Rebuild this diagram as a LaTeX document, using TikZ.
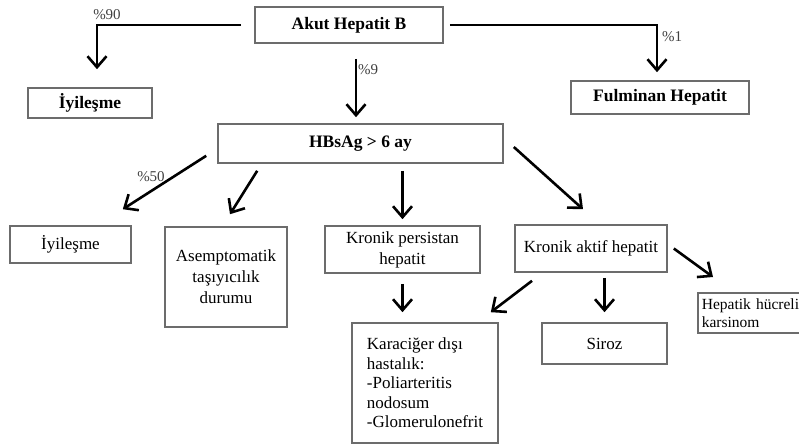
\documentclass[tikz,border=0pt]{standalone}
\usepackage{fontspec}
\setmainfont{Liberation Serif}
\usetikzlibrary{arrows.meta}

\begin{document}
\begin{tikzpicture}[x=1pt,y=-1pt,
        box/.style={draw=gray!85!black, line width=1.6pt, inner sep=0pt, font=\fontsize{17}{20}\selectfont},
        boldbox/.style={box, font=\fontsize{17.5}{20}\selectfont\bfseries},
        arr/.style={-{Straight Barb[length=11pt,width=19pt]}, line width=2.6pt},
        pct/.style={font=\fontsize{15}{17}\selectfont, text=black!75}]
        \clip (0,0) rectangle (799,445);

        % top level
        \node[boldbox, minimum width=188pt, minimum height=36pt] (akut) at (349,25) {Akut Hepatit B};
        \node[boldbox, minimum width=124pt, minimum height=30pt] (iyi1) at (90,103) {İyileşme};
        \node[boldbox, minimum width=178pt, minimum height=33pt] (fulminan) at (660,97.5) {Fulminan Hepatit};
        \node[boldbox, minimum width=285pt, minimum height=39pt] (hbsag) at (360.5,143.5) {HBsAg > 6 ay};

        % second level
        \node[box, minimum width=121pt, minimum height=37pt] (iyi2) at (70.5,244.5) {İyileşme};
        \node[box, minimum width=122pt, minimum height=100pt, align=center, font=\fontsize{17}{21}\selectfont] (asemp) at (226,277) {Asemptomatik\\taşıyıcılık\\durumu};
        \node[box, minimum width=155pt, minimum height=47pt, align=center, font=\fontsize{17}{21}\selectfont] (persistan) at (402.5,249.5) {Kronik persistan\\hepatit};
        \node[box, minimum width=152pt, minimum height=47pt] (aktif) at (591,248.5) {Kronik aktif hepatit};

        % third level
        \node[box, minimum width=146pt, minimum height=120pt, align=left, font=\fontsize{17}{19.5}\selectfont] (karaciger) at (425,383) {Karaciğer dışı\\hastalık:\\-Poliarteritis\\nodosum\\-Glomerulonefrit};
        \node[box, minimum width=125pt, minimum height=41pt] (siroz) at (604.5,343.5) {Siroz};
        \node[box, anchor=north west, align=left, inner sep=4pt, text width=112pt, minimum height=40pt, font=\fontsize{15.5}{18}\selectfont] (hcc) at (697,292) {Hepatik hücreli\\karsinom};

        % arrows from Akut Hepatit B
        \draw[arr, shorten <=13pt, shorten >=18pt] (akut.west) -| ([xshift=7pt]iyi1.north);
        \draw[arr, shorten <=15pt, shorten >=6pt] ([xshift=7pt]akut.south) -- ([xshift=-4.5pt]hbsag.north);
        \draw[arr, shorten <=6pt, shorten >=8pt] (akut.east) -| ([xshift=-3pt]fulminan.north);

        % arrows from HBsAg
        \draw[arr] ([xshift=-11pt,yshift=8pt]hbsag.south west) -- ([xshift=-9pt,yshift=16pt]iyi2.north east);
        \draw[arr] ([xshift=40pt,yshift=-7pt]hbsag.south west) -- ([xshift=4pt,yshift=12pt]asemp.north);
        \draw[arr, shorten <=7pt, shorten >=6pt] (persistan.north |- hbsag.south) -- (persistan.north);
        \draw[arr] ([xshift=10pt,yshift=-3.5pt]hbsag.east) -- ([xshift=-8pt,yshift=15pt]aktif.north);

        % arrows to the last level
        \draw[arr, shorten <=10pt, shorten >=10pt] (persistan.south) -- (persistan.south |- karaciger.north);
        \draw[arr] ([xshift=-59pt,yshift=-8pt]aktif.south) -- ([xshift=-8pt,yshift=10pt]karaciger.north east);
        \draw[arr, shorten <=5pt, shorten >=10pt] (siroz.north |- aktif.south) -- (siroz.north);
        \draw[arr] ([xshift=6pt]aktif.east) -- ([xshift=16pt,yshift=15pt]hcc.north west);

        % percentages
        \node[pct] (p90) at (107,15) {\%90};
        \node[pct] (p9) at (368,70) {\%9};
        \node[pct] (p1) at (672,37) {\%1};
        \node[pct] (p50) at (151,177) {\%50};
\end{tikzpicture}
\end{document}
